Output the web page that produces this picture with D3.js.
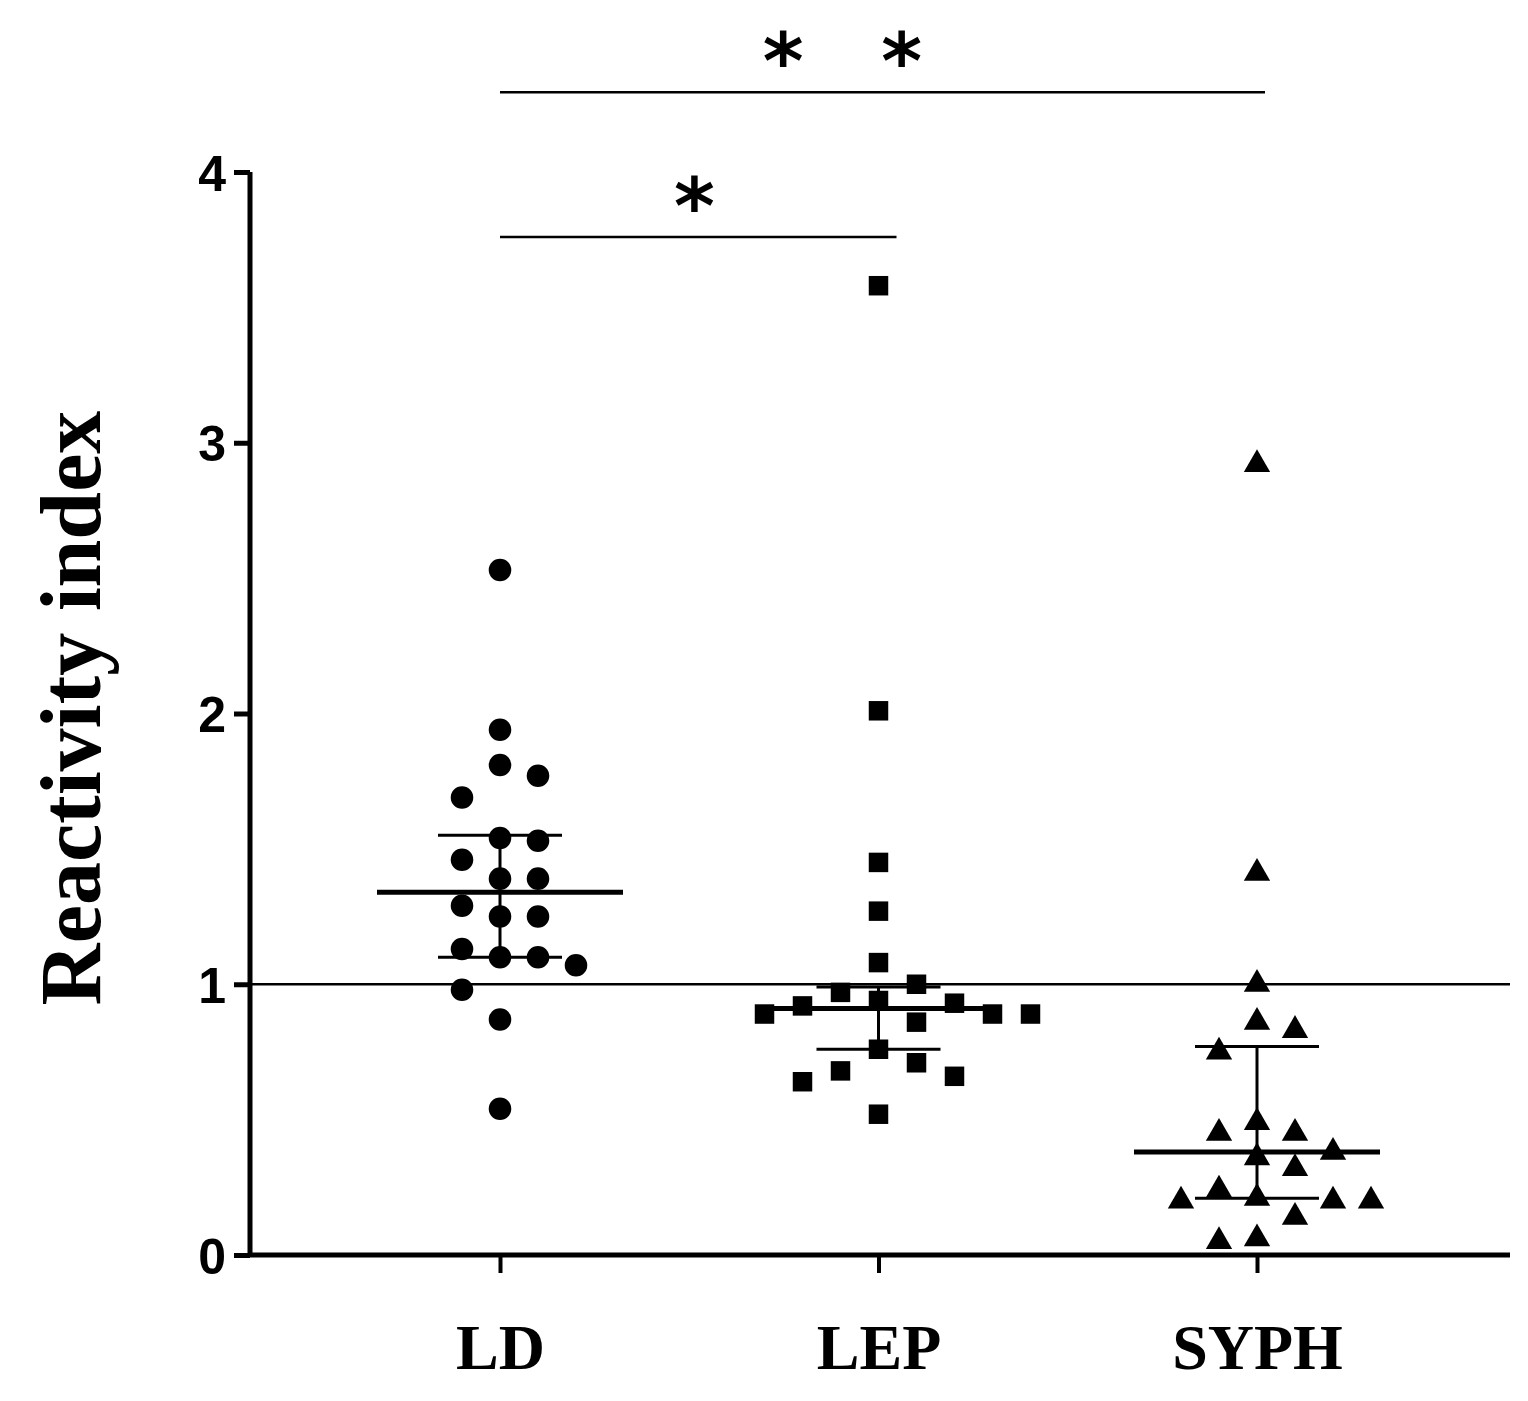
<!DOCTYPE html><html><head><meta charset="utf-8"><script src="https://cdn.jsdelivr.net/npm/d3@7"></script>
<style>body{margin:0;background:#fff}</style></head><body><svg id="c" width="1528" height="1401"></svg><script>
const categories=["LD","LEP","SYPH"];
const ldValues=[2.53,1.94,1.81,1.77,1.69,1.53,1.54,1.46,1.39,1.39,1.29,1.25,1.25,1.10,1.10,1.07,1.13,0.98,0.87,0.54];
const lepValues=[3.58,2.01,1.45,1.27,1.08,1.00,0.97,0.94,0.89,0.92,0.93,0.86,0.89,0.89,0.76,0.71,0.68,0.66,0.64,0.52];
const syphValues=[2.92,1.41,1.0,0.83,0.86,0.75,0.49,0.45,0.45,0.38,0.36,0.32,0.24,0.20,0.20,0.21,0.20,0.14,0.05,0.06];
const medians=[1.34,0.91,0.38];
const iqrLow=[1.10,0.76,0.21];
const iqrHigh=[1.55,0.99,0.77];
const yTicks=[0,1,2,3,4];
const refLine=1;
const sig=[{from:"LD",to:"SYPH",y:4.295,stars:[0.37,0.525]},{from:"LD",to:"LEP",y:3.76,stars:[0.49]}];
const series=[ldValues,lepValues,syphValues];
const svg=d3.select("#c");
const y=d3.scaleLinear().domain([0,4]).range([1255,172]);
const x=d3.scalePoint().domain(categories).range([500,1257]);
const X0=250,X1=1510;
const ya=svg.append("g").attr("transform",`translate(${X0},0)`).call(d3.axisLeft(y).tickValues(yTicks).tickSize(16).tickFormat(d3.format("d")));
ya.select(".domain").attr("stroke-width",5).attr("d","M0,1257V172");
ya.selectAll(".tick line").attr("stroke-width",5);
ya.selectAll("text").attr("font-family","Liberation Sans,Arial").attr("font-weight","bold").attr("font-size",50).attr("x",-24).attr("dy","0.36em");
const xa=svg.append("g").attr("transform",`translate(0,1255)`).call(d3.axisBottom(x).tickSize(18).tickSizeOuter(0));
xa.select(".domain").attr("stroke-width",5).attr("d",`M${X0},0H${X1}`);
xa.selectAll(".tick line").attr("stroke-width",4);
xa.selectAll("text").attr("font-family","Liberation Serif,Times New Roman,serif").attr("font-weight","bold").attr("font-size",64).attr("dy","1.45em");
svg.append("text").attr("transform","translate(100,708) rotate(-90)").attr("text-anchor","middle")
 .attr("font-family","Liberation Serif,Times New Roman,serif").attr("font-weight","bold").attr("font-size",86).text("Reactivity index");
svg.append("line").attr("x1",X0).attr("x2",X1).attr("y1",y(refLine)).attr("y2",y(refLine)).attr("stroke","#000").attr("stroke-width",2.5);
function dodge(vals,cx){const placed=[];const step=38,minD=34;
 vals.map((v,i)=>({v,i})).sort((a,b)=>b.v-a.v).forEach(p=>{const py=y(p.v);
  for(let k=0;k<12;k++){const slot=k===0?0:(k%2?Math.ceil(k/2):-Math.ceil(k/2));const px=cx+20+slot*step;
   if(placed.every(q=>Math.hypot(q.x-px,q.y-py)>=minD)){placed.push({x:px,y:py});break;}}});return placed;}
const shapes=[d3.symbolCircle,d3.symbolSquare,d3.symbolTriangle];
const sizes=[400,380,300];
categories.forEach((c,ci)=>{const cx=x(c);
 const g=svg.append("g");
 dodge(series[ci],cx-20).forEach(p=>g.append("path").attr("d",d3.symbol(shapes[ci],sizes[ci])()).attr("transform",`translate(${p.x},${p.y})`).attr("fill","#000"));
 g.append("line").attr("x1",cx-123).attr("x2",cx+123).attr("y1",y(medians[ci])).attr("y2",y(medians[ci])).attr("stroke","#000").attr("stroke-width",5);
 g.append("line").attr("x1",cx).attr("x2",cx).attr("y1",y(iqrLow[ci])).attr("y2",y(iqrHigh[ci])).attr("stroke","#000").attr("stroke-width",3);
 [iqrLow[ci],iqrHigh[ci]].forEach(v=>g.append("line").attr("x1",cx-62).attr("x2",cx+62).attr("y1",y(v)).attr("y2",y(v)).attr("stroke","#000").attr("stroke-width",3));
});
sig.forEach(s=>{const a=x(s.from),b=x(s.to)+(s.to==="LEP"?18:8);
 svg.append("line").attr("x1",a).attr("x2",b).attr("y1",y(s.y)).attr("y2",y(s.y)).attr("stroke","#000").attr("stroke-width",2.5);
 s.stars.forEach(f=>svg.append("text").attr("x",a+(b-a)*f).attr("y",y(s.y)-3).attr("text-anchor","middle").attr("font-family","DejaVu Sans").attr("font-weight","bold").attr("font-size",78).text("*"));
});
</script></body></html>
